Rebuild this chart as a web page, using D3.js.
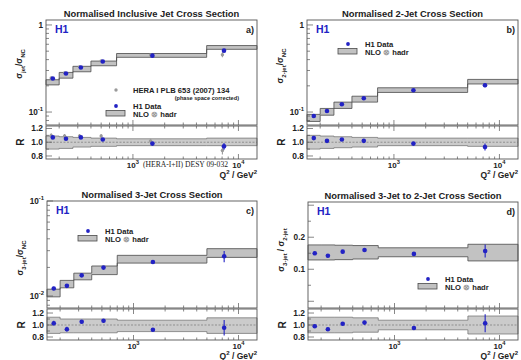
<!DOCTYPE html>
<html><head><meta charset="utf-8">
<script src="https://cdn.jsdelivr.net/npm/d3@7/dist/d3.min.js"></script>
<style>
body{margin:0;background:#fff;}
svg{display:block;}
text{font-family:"Liberation Sans",Arial,Helvetica,sans-serif;font-weight:bold;fill:#222;}
</style></head>
<body>
<svg id="c" width="521" height="360"></svg>
<script>
// ---------- data ----------
const q2Edges = [150, 200, 270, 400, 700, 5000, 15000];
const q2Centres = [174, 232, 321, 518, 1530, 7300];
const heraQ2 = [168, 225, 312, 500, 1470, 7050];

// a) inclusive jet
const incData = [0.243, 0.277, 0.325, 0.380, 0.444, 0.507];
const incErr = [0.006, 0.006, 0.007, 0.008, 0.010, 0.022];
const incNloLo = [0.205, 0.245, 0.290, 0.340, 0.425, 0.525];
const incNloHi = [0.235, 0.285, 0.335, 0.385, 0.470, 0.580];
const incHera = [0.246, 0.281, 0.330, 0.386, 0.452, 0.455];
const incHeraErr = [0.008, 0.008, 0.009, 0.010, 0.012, 0.030];
const incR = [1.07, 1.05, 1.07, 1.04, 0.98, 0.94];
const incRErr = [0.02, 0.02, 0.02, 0.02, 0.02, 0.05];
const incHeraR = [1.10, 1.09, 1.09, 1.09, 1.02, 0.88];
const incHeraRErr = [0.03, 0.03, 0.03, 0.03, 0.03, 0.06];
const incRLo = [0.90, 0.91, 0.93, 0.94, 0.95, 0.95];
const incRHi = [1.09, 1.08, 1.07, 1.06, 1.05, 1.06];

// b) 2-jet
const dijData = [0.090, 0.103, 0.123, 0.144, 0.178, 0.203];
const dijErr = [0.003, 0.003, 0.003, 0.004, 0.005, 0.010];
const dijNloLo = [0.078, 0.092, 0.110, 0.130, 0.168, 0.210];
const dijNloHi = [0.094, 0.110, 0.130, 0.152, 0.190, 0.237];
const dijR = [1.06, 1.02, 1.04, 1.02, 0.98, 0.93];
const dijRErr = [0.02, 0.02, 0.02, 0.02, 0.02, 0.05];
const dijRLo = [0.90, 0.91, 0.92, 0.93, 0.95, 0.94];
const dijRHi = [1.10, 1.09, 1.08, 1.07, 1.06, 1.06];

// c) 3-jet
const trijData = [0.0120, 0.0128, 0.0165, 0.0199, 0.0228, 0.0262];
const trijErr = [0.0005, 0.0005, 0.0006, 0.0007, 0.0008, 0.0035];
const trijNloLo = [0.0098, 0.0122, 0.0148, 0.0168, 0.0222, 0.0255];
const trijNloHi = [0.0118, 0.0146, 0.0174, 0.0207, 0.0268, 0.0315];
const trijR = [1.03, 0.93, 1.055, 1.07, 0.92, 0.955];
const trijRErr = [0.04, 0.04, 0.03, 0.03, 0.03, 0.13];
const trijRLo = [0.86, 0.87, 0.87, 0.87, 0.89, 0.86];
const trijRHi = [1.13, 1.10, 1.10, 1.10, 1.08, 1.12];

// d) 3-jet / 2-jet
const ratData = [0.150, 0.142, 0.155, 0.160, 0.148, 0.157];
const ratErr = [0.005, 0.005, 0.005, 0.005, 0.005, 0.020];
const ratNloLo = [0.129, 0.129, 0.130, 0.132, 0.139, 0.126];
const ratNloHi = [0.176, 0.176, 0.175, 0.174, 0.167, 0.178];
const ratR = [0.98, 0.93, 1.02, 1.04, 0.95, 1.03];
const ratRErr = [0.03, 0.03, 0.03, 0.03, 0.03, 0.15];
const ratRLo = [0.87, 0.87, 0.87, 0.88, 0.92, 0.85];
const ratRHi = [1.13, 1.13, 1.13, 1.12, 1.08, 1.15];

const titles = ["Normalised Inclusive Jet Cross Section", "Normalised 2-Jet Cross Section",
  "Normalised 3-Jet Cross Section", "Normalised 3-Jet to 2-Jet Cross Section"];
const panelTags = ["a)", "b)", "c)", "d)"];
const rTickLabels = ["1.2", "1.0", "0.8"];
const xTickLabels = [{v: 1000, base: "10", exp: "3"}, {v: 10000, base: "10", exp: "4"}];

// ---------- drawing ----------
const svg = d3.select("#c");
const BLUE = "#2222c4";
const FRAME = "#555";

function bins(lo, hi) {
  return lo.map((l, i) => ({x0: q2Edges[i], x1: q2Edges[i + 1], lo: l, hi: hi[i]}));
}
function pts(x, y, e) { return x.map((q, i) => ({q, y: y[i], e: e[i]})); }

function supText(g, x, y, base, exp, anchor, size) {
  const t = g.append("text").attr("x", x).attr("y", y).attr("text-anchor", anchor || "middle")
    .attr("font-size", size || 8).text(base);
  t.append("tspan").attr("dy", -4).attr("font-size", (size || 8) * 0.72).text(exp);
  return t;
}

function band(g, b, x, sy, fill, stroke, sw) {
  const steps = b.map(d => ({q: d.x0, lo: d.lo, hi: d.hi}));
  const last = b[b.length - 1];
  steps.push({q: last.x1, lo: last.lo, hi: last.hi});
  g.append("path").datum(steps)
    .attr("d", d3.area().curve(d3.curveStepAfter).x(d => x(d.q)).y0(d => sy(d.lo)).y1(d => sy(d.hi)))
    .attr("fill", fill);
  ["lo", "hi"].forEach(k => g.append("path").datum(steps)
    .attr("d", d3.line().curve(d3.curveStepAfter).x(d => x(d.q)).y(d => sy(d[k])))
    .attr("fill", "none").attr("stroke", stroke).attr("stroke-width", sw));
  // outer ends
  [b[0], last].forEach((d, i) => g.append("line")
    .attr("x1", x(i ? d.x1 : d.x0)).attr("x2", x(i ? d.x1 : d.x0)).attr("y1", sy(d.lo)).attr("y2", sy(d.hi))
    .attr("stroke", stroke).attr("stroke-width", sw));
}

function panel(cfg) {
  const g = svg.append("g");
  const x = d3.scaleLog().domain([150, 15000]).range([cfg.x0, cfg.x1]);
  const y = (cfg.linear ? d3.scaleLinear() : d3.scaleLog()).domain(cfg.yDom).range([cfg.my1, cfg.my0]);
  const r = d3.scaleLinear().domain(cfg.rDom).range([cfg.ry1, cfg.ry0]);

  g.append("text").attr("x", (cfg.x0 + cfg.x1) / 2).attr("y", cfg.my0 - 3)
    .attr("text-anchor", "middle").attr("font-size", 9.4).text(cfg.title);

  band(g, cfg.nlo, x, y, "#c2c2c2", "#4a4a4a", 0.8);
  band(g, cfg.rnlo, x, r, "#cbcbcb", "#6a6a6a", 0.7);
  g.append("line").attr("x1", cfg.x0).attr("x2", cfg.x1).attr("y1", r(1)).attr("y2", r(1))
    .attr("stroke", "#777").attr("stroke-width", 0.7).attr("stroke-dasharray", "2,1.5");

  [[cfg.my0, cfg.my1], [cfg.ry0, cfg.ry1]].forEach(([a, b]) => {
    g.append("rect").attr("x", cfg.x0).attr("y", a).attr("width", cfg.x1 - cfg.x0).attr("height", b - a)
      .attr("fill", "none").attr("stroke", FRAME).attr("stroke-width", 0.9);
  });

  const xt = [];
  for (let e = 2; e <= 4; e++) for (let k = 1; k <= 9; k++) {
    const v = k * Math.pow(10, e);
    if (v > 150 && v < 15000) xt.push({v, major: k === 1});
  }
  [[cfg.my1, -1], [cfg.ry0, 1], [cfg.ry1, -1]].forEach(([yy, dir]) => {
    g.selectAll(null).data(xt).join("line")
      .attr("x1", d => x(d.v)).attr("x2", d => x(d.v))
      .attr("y1", yy).attr("y2", d => yy + dir * (d.major ? 5 : 2.5))
      .attr("stroke", FRAME).attr("stroke-width", 0.7);
  });
  xTickLabels.forEach(t => supText(g, x(t.v), cfg.ry1 + 9, t.base, t.exp, "middle", 8));
  const q = g.append("text").attr("x", cfg.x1).attr("y", cfg.ry1 + 19).attr("text-anchor", "end").attr("font-size", 8.5).text("Q");
  q.append("tspan").attr("dy", -4).attr("font-size", 6).text("2");
  q.append("tspan").attr("dy", 4).text(" / GeV");
  q.append("tspan").attr("dy", -4).attr("font-size", 6).text("2");

  let yt = [];
  if (cfg.linear) {
    for (let v = 0; v <= 0.3001; v += 0.05) yt.push({v: +v.toFixed(2), major: Math.abs(v * 10 - Math.round(v * 10)) < 1e-6});
  } else {
    for (let e = -3; e <= 0; e++) for (let k = 1; k <= 9; k++) {
      const v = k * Math.pow(10, e);
      yt.push({v, major: k === 1});
    }
  }
  yt = yt.filter(d => d.v >= cfg.yDom[0] && d.v <= cfg.yDom[1] * 1.0001);
  g.selectAll(null).data(yt).join("line")
    .attr("x1", cfg.x0).attr("x2", d => cfg.x0 + (d.major ? 6 : 3))
    .attr("y1", d => y(d.v)).attr("y2", d => y(d.v)).attr("stroke", FRAME).attr("stroke-width", 0.7);
  cfg.yLabels.forEach(l => {
    if (l.exp) supText(g, cfg.x0 - 3, y(l.v) + 3, l.base, l.exp, "end", 8.2);
    else g.append("text").attr("x", cfg.x0 - 3).attr("y", y(l.v) + 3).attr("text-anchor", "end").attr("font-size", 8.2).text(l.base);
  });
  [0.8, 0.9, 1.0, 1.1, 1.2].forEach((v, i) => {
    g.append("line").attr("x1", cfg.x0).attr("x2", cfg.x0 + (i % 2 ? 3 : 6)).attr("y1", r(v)).attr("y2", r(v))
      .attr("stroke", FRAME).attr("stroke-width", 0.7);
  });
  rTickLabels.forEach(l => g.append("text").attr("x", cfg.x0 - 3).attr("y", r(+l) + 3)
    .attr("text-anchor", "end").attr("font-size", 8.4).text(l));

  const yl = g.append("text").attr("transform", `translate(${cfg.x0 - 24},${cfg.ylabY}) rotate(-90)`)
    .attr("text-anchor", "middle").attr("font-size", 8.5);
  cfg.ylab(yl);
  g.append("text").attr("transform", `translate(${cfg.x0 - 22},${r(1)}) rotate(-90)`)
    .attr("text-anchor", "middle").attr("font-size", 10).text("R");

  g.append("text").attr("x", cfg.x0 + 9).attr("y", cfg.my0 + 13).attr("font-size", 10.5)
    .style("fill", BLUE).text("H1");
  g.append("text").attr("x", cfg.x1 - 3).attr("y", cfg.my0 + 13).attr("text-anchor", "end").attr("font-size", 9).text(cfg.tag);

  function drawPts(data, sy, col, rad) {
    const gg = g.append("g");
    gg.selectAll(null).data(data).join("line")
      .attr("x1", d => x(d.q)).attr("x2", d => x(d.q))
      .attr("y1", d => sy(d.y - d.e)).attr("y2", d => sy(d.y + d.e))
      .attr("stroke", col).attr("stroke-width", 1.1);
    gg.selectAll(null).data(data).join("circle")
      .attr("cx", d => x(d.q)).attr("cy", d => sy(d.y)).attr("r", rad).attr("fill", col);
  }
  if (cfg.hera) drawPts(cfg.hera, y, "#9a9a9a", 1.7);
  if (cfg.heraR) drawPts(cfg.heraR, r, "#9a9a9a", 1.7);
  drawPts(cfg.data, y, BLUE, 2.3);
  drawPts(cfg.rdata, r, BLUE, 2.3);

  const L = cfg.leg;
  if (L.hera) {
    g.append("circle").attr("cx", L.x + 10).attr("cy", L.hera).attr("r", 1.7).attr("fill", "#9a9a9a");
    g.append("text").attr("x", L.x + 27).attr("y", L.hera + 3).attr("font-size", 7.6).text("HERA I PLB 653 (2007) 134");
    g.append("text").attr("x", L.x + 133).attr("y", L.hera + 9.5).attr("text-anchor", "end").attr("font-size", 5.6).attr("font-weight", "normal").text("(phase space corrected)");
  }
  g.append("circle").attr("cx", L.x + 10).attr("cy", L.y).attr("r", 1.9).attr("fill", BLUE);
  g.append("text").attr("x", L.x + 27).attr("y", L.y + 3).attr("font-size", 7.6).text("H1 Data");
  g.append("rect").attr("x", L.x).attr("y", L.y + 4.5).attr("width", 19).attr("height", 5.5)
    .attr("fill", "#c2c2c2").attr("stroke", "#4a4a4a").attr("stroke-width", 0.8);
  const nt = g.append("text").attr("x", L.x + 27).attr("y", L.y + 10.5).attr("font-size", 7.6).text("NLO ");
  nt.append("tspan").style("fill", "#999").text("⊗");
  nt.append("tspan").text(" hadr");
}

function sigLabel(num, den) {
  return t => {
    t.append("tspan").text("σ");
    t.append("tspan").attr("dy", 2.5).attr("font-size", 6).text(num);
    t.append("tspan").attr("dy", -2.5).text(den.sep + "σ");
    t.append("tspan").attr("dy", 2.5).attr("font-size", 6).text(den.sub);
  };
}

panel({
  title: titles[0], tag: panelTags[0],
  x0: 46, x1: 257, my0: 20, my1: 125, ry0: 126, ry1: 159,
  yDom: [0.071, 1.14], rDom: [0.756, 1.236],
  yLabels: [{v: 1, base: "1"}, {v: 0.1, base: "10", exp: "-1"}],
  ylab: sigLabel("jet", {sep: "/", sub: "NC"}), ylabY: 64,
  nlo: bins(incNloLo, incNloHi), rnlo: bins(incRLo, incRHi),
  data: pts(q2Centres, incData, incErr), rdata: pts(q2Centres, incR, incRErr),
  hera: pts(heraQ2, incHera, incHeraErr), heraR: pts(heraQ2, incHeraR, incHeraRErr),
  leg: {x: 106, y: 106, hera: 90}
});
panel({
  title: titles[1], tag: panelTags[1],
  x0: 307, x1: 518, my0: 20, my1: 125, ry0: 126, ry1: 159,
  yDom: [0.071, 1.14], rDom: [0.756, 1.236],
  yLabels: [{v: 1, base: "1"}, {v: 0.1, base: "10", exp: "-1"}],
  ylab: sigLabel("2-jet", {sep: "/", sub: "NC"}), ylabY: 66,
  nlo: bins(dijNloLo, dijNloHi), rnlo: bins(dijRLo, dijRHi),
  data: pts(q2Centres, dijData, dijErr), rdata: pts(q2Centres, dijR, dijRErr),
  leg: {x: 338, y: 44}
});
panel({
  title: titles[2], tag: panelTags[2],
  x0: 47, x1: 257, my0: 201, my1: 308, ry0: 309, ry1: 340,
  yDom: [0.00748, 0.1], rDom: [0.75, 1.267],
  yLabels: [{v: 0.1, base: "10", exp: "-1"}, {v: 0.01, base: "10", exp: "-2"}],
  ylab: sigLabel("3-jet", {sep: "/", sub: "NC"}), ylabY: 258,
  nlo: bins(trijNloLo, trijNloHi), rnlo: bins(trijRLo, trijRHi),
  data: pts(q2Centres, trijData, trijErr), rdata: pts(q2Centres, trijR, trijRErr),
  leg: {x: 78, y: 231}
});
panel({
  title: titles[3], tag: panelTags[3], linear: true,
  x0: 308, x1: 518, my0: 202, my1: 308, ry0: 309, ry1: 340,
  yDom: [-0.021, 0.31], rDom: [0.75, 1.267],
  yLabels: [{v: 0.2, base: "0.2"}, {v: 0.1, base: "0.1"}],
  ylab: sigLabel("3-jet", {sep: " / ", sub: "2-jet"}), ylabY: 250,
  nlo: bins(ratNloLo, ratNloHi), rnlo: bins(ratRLo, ratRHi),
  data: pts(q2Centres, ratData, ratErr), rdata: pts(q2Centres, ratR, ratRErr),
  leg: {x: 418, y: 279}
});

svg.append("text").attr("x", 143).attr("y", 167).attr("font-size", 7.6)
  .style("font-family", "'Liberation Serif','Times New Roman',serif").style("font-weight", "normal")
  .text("(HERA-I+II) DESY  09-032");
</script>
</body></html>
